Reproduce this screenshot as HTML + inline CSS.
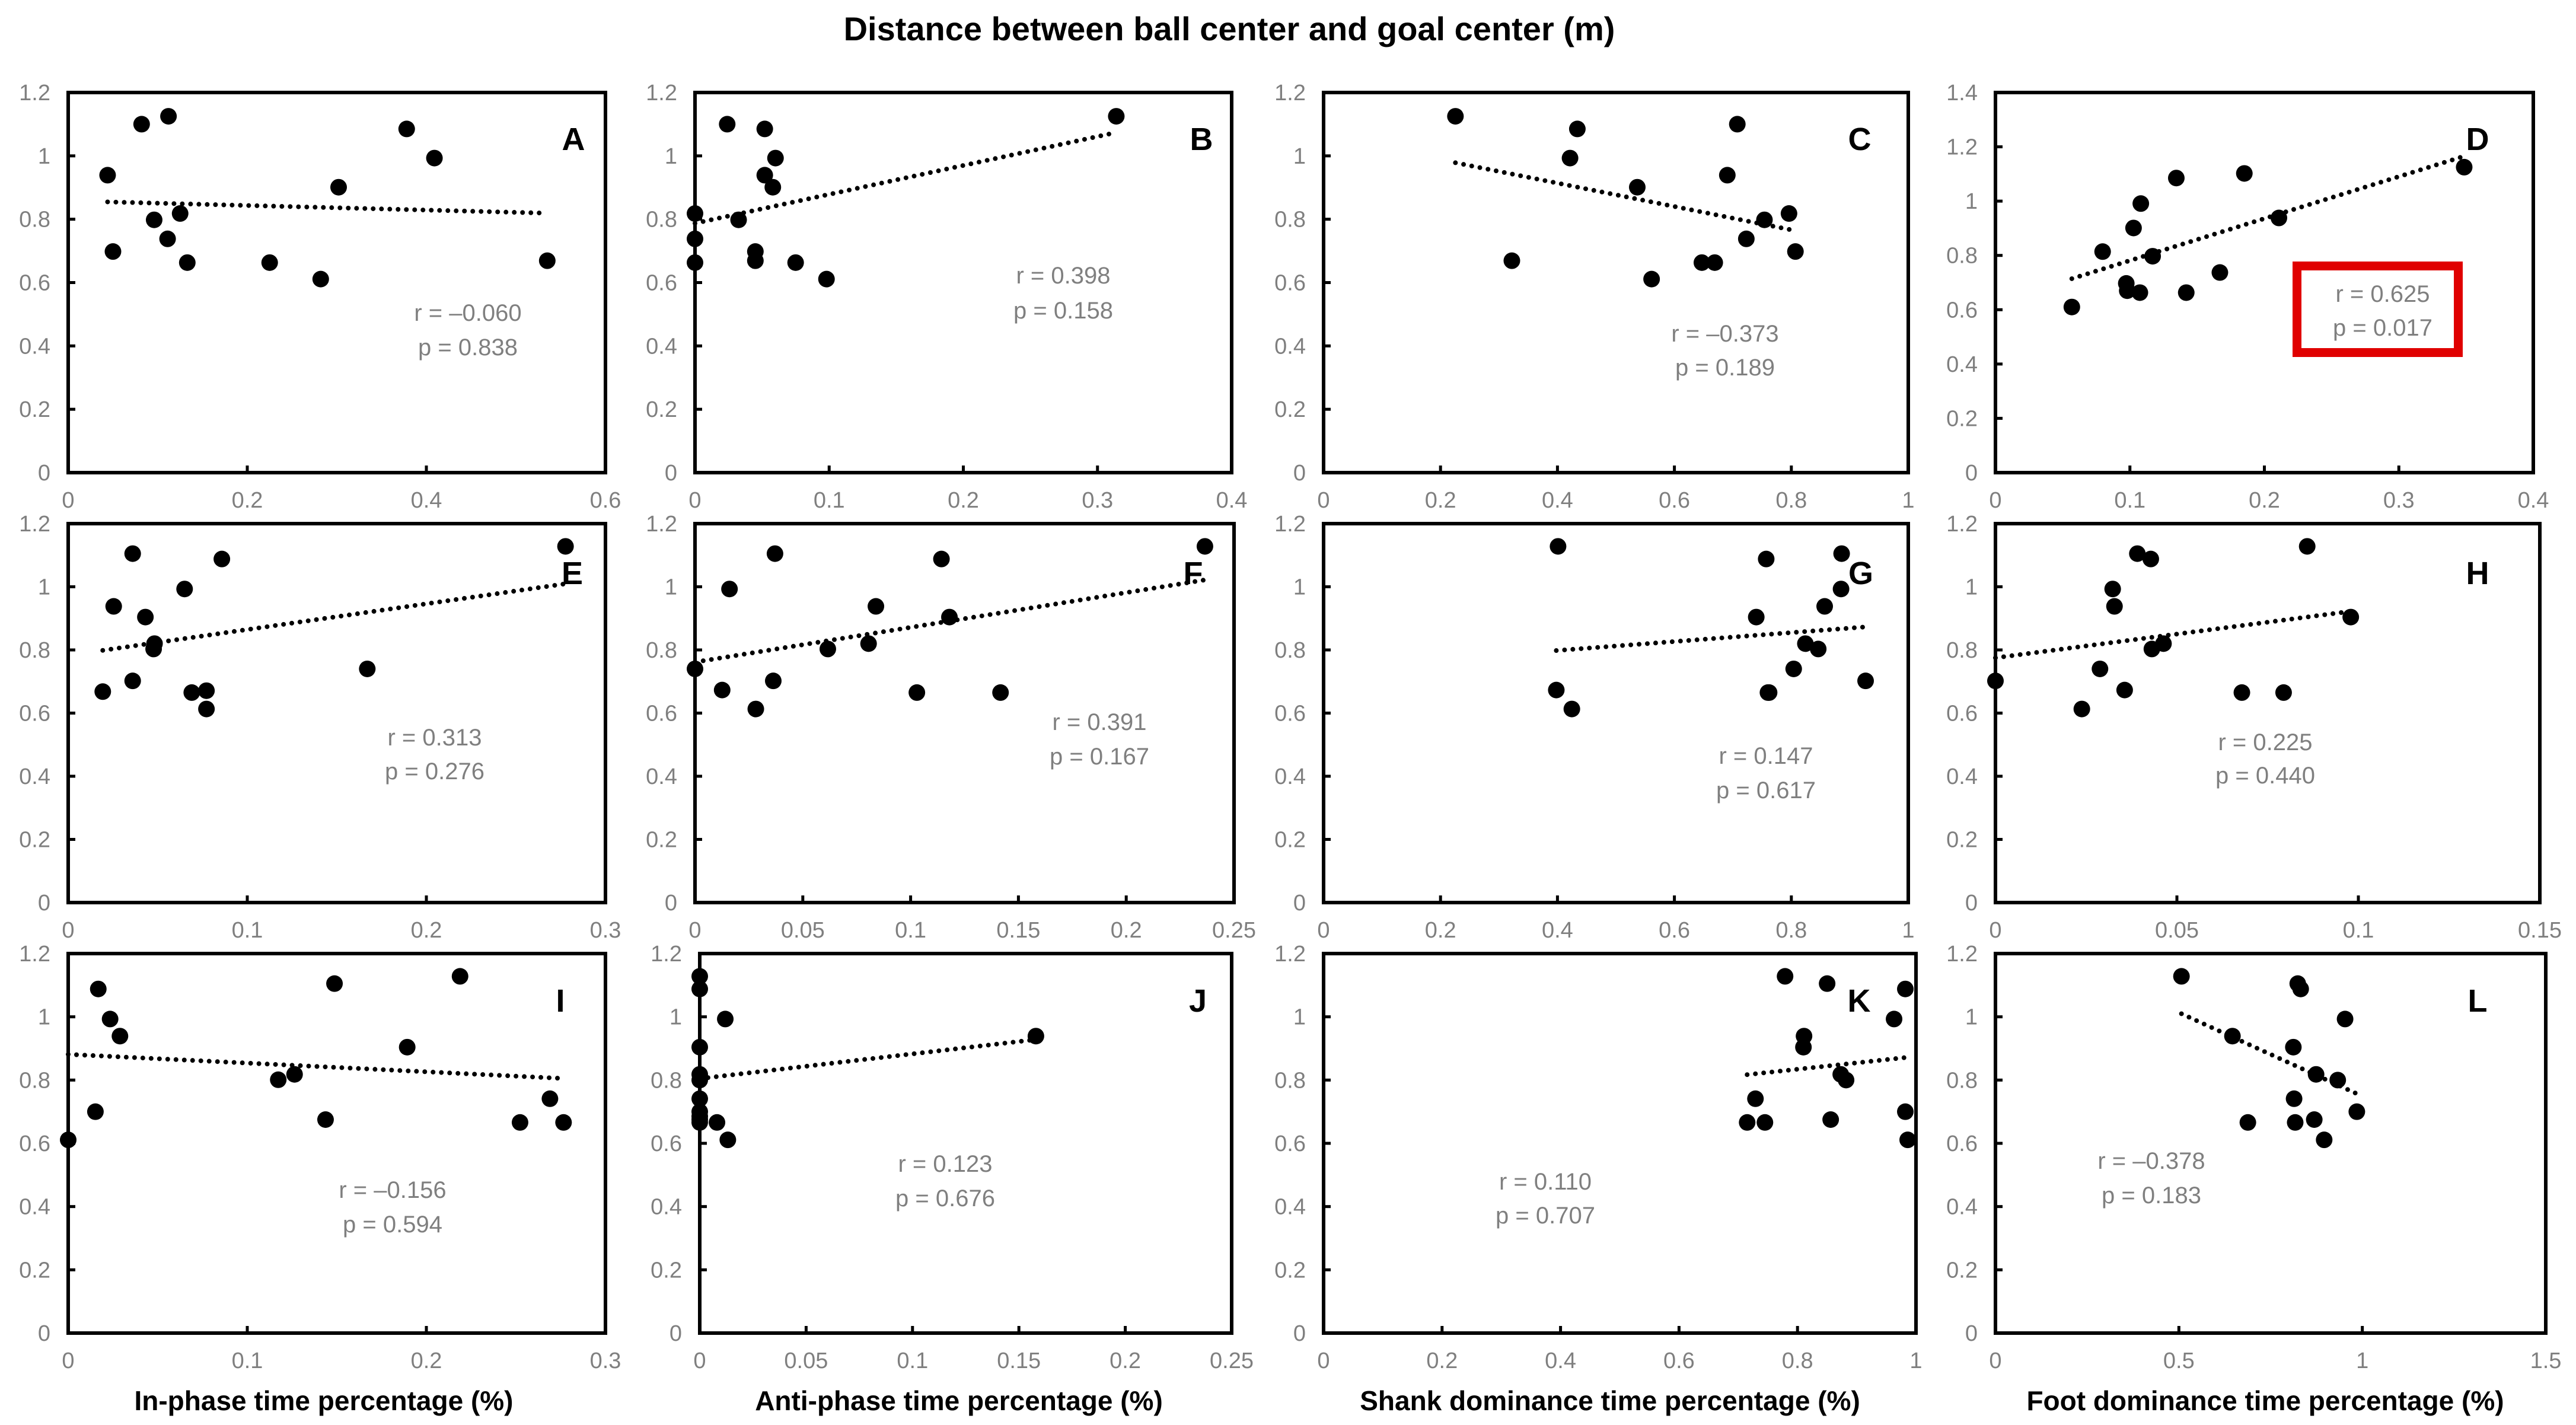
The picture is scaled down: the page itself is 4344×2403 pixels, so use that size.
<!DOCTYPE html>
<html><head><meta charset="utf-8">
<style>
html,body{margin:0;padding:0;background:#fff;}
svg{display:block;font-family:"Liberation Sans",Arial,sans-serif;}
</style></head>
<body>
<svg id="fig" xmlns="http://www.w3.org/2000/svg" width="4344" height="2403" viewBox="0 0 4344 2403">
<rect x="0" y="0" width="4344" height="2403" fill="#fff"/>
<text x="2073" y="68" text-anchor="middle" font-size="56" font-weight="bold">Distance between ball center and goal center (m)</text>
<text x="546" y="2378" text-anchor="middle" font-size="46" font-weight="bold">In-phase time percentage (%)</text>
<text x="1617" y="2378" text-anchor="middle" font-size="46" font-weight="bold">Anti-phase time percentage (%)</text>
<text x="2715" y="2378" text-anchor="middle" font-size="46" font-weight="bold">Shank dominance time percentage (%)</text>
<text x="3820" y="2378" text-anchor="middle" font-size="46" font-weight="bold">Foot dominance time percentage (%)</text>
</svg>
<script>
// ---- data per panel ----
const xA=[0.044,0.050,0.082,0.096,0.112,0.111,0.125,0.133,0.225,0.282,0.302,0.378,0.409,0.535];
const yA=[0.939,0.698,1.100,0.798,1.125,0.738,0.818,0.663,0.663,0.611,0.901,1.085,0.993,0.669];
const xB=[0,0,0,0.024,0.0325,0.045,0.045,0.052,0.052,0.058,0.060,0.075,0.098,0.314];
const yB=[0.818,0.738,0.663,1.100,0.798,0.698,0.669,1.085,0.939,0.901,0.993,0.663,0.611,1.125];
const xC=[0.2255,0.322,0.4215,0.434,0.5365,0.561,0.647,0.669,0.6905,0.7076,0.723,0.754,0.796,0.807];
const yC=[1.125,0.669,0.993,1.085,0.901,0.611,0.663,0.663,0.939,1.100,0.738,0.798,0.818,0.698];
const xD=[0.0568,0.0797,0.0973,0.098,0.1027,0.1074,0.1081,0.1169,0.1345,0.1419,0.1669,0.1851,0.2108,0.3486];
const yD=[0.610,0.814,0.697,0.670,0.901,0.663,0.991,0.797,1.085,0.663,0.737,1.102,0.938,1.125];
const xE=[0.0193,0.0254,0.036,0.036,0.0431,0.0482,0.0477,0.065,0.069,0.0772,0.0772,0.0858,0.167,0.2777];
const yE=[0.668,0.938,1.105,0.702,0.904,0.820,0.803,0.993,0.665,0.671,0.613,1.088,0.740,1.128];
const xF=[0,0.0126,0.016,0.0282,0.0363,0.0371,0.0616,0.0805,0.0839,0.1029,0.1143,0.118,0.1417,0.2365];
const yF=[0.740,0.673,0.993,0.613,0.702,1.105,0.803,0.820,0.938,0.665,1.088,0.904,0.665,1.128];
const xG=[0.401,0.398,0.4246,0.740,0.757,0.760,0.762,0.804,0.824,0.846,0.857,0.885,0.886,0.927];
const yG=[1.128,0.673,0.613,0.904,1.088,0.665,0.665,0.740,0.820,0.803,0.938,0.993,1.105,0.702];
const xH=[0,0.0238,0.0288,0.0323,0.0328,0.0356,0.0391,0.0428,0.0431,0.0463,0.0679,0.0794,0.0859,0.0979];
const yH=[0.702,0.613,0.740,0.993,0.938,0.673,1.105,1.088,0.803,0.820,0.665,0.665,1.128,0.904];
const xI=[0,0.0152,0.0168,0.0234,0.0289,0.1173,0.1264,0.1437,0.1487,0.1893,0.2188,0.2523,0.2690,0.2766];
const yI=[0.611,0.700,1.088,0.993,0.939,0.801,0.818,0.675,1.105,0.904,1.128,0.666,0.741,0.666];
const xJ=[0,0,0,0,0,0,0,0,0,0.0081,0.012,0.0132,0.158,0];
const yJ=[1.128,1.088,0.904,0.818,0.800,0.741,0.700,0.666,0.675,0.666,0.993,0.611,0.939,0.685];
const xK=[0.779,0.850,0.811,0.810,0.873,0.882,0.729,0.715,0.745,0.856,0.963,0.982,0.982,0.986];
const yK=[1.128,1.105,0.939,0.904,0.818,0.800,0.741,0.666,0.666,0.675,0.993,1.088,0.700,0.611];
const xL=[0.507,0.646,0.688,0.812,0.814,0.817,0.824,0.832,0.869,0.874,0.896,0.933,0.953,0.985];
const yL=[1.128,0.939,0.666,0.904,0.741,0.666,1.105,1.088,0.675,0.818,0.611,0.800,0.993,0.700];

const ticksX_06=["0","0.2","0.4","0.6"];
const ticksX_04=["0","0.1","0.2","0.3","0.4"];
const ticksX_1=["0","0.2","0.4","0.6","0.8","1"];
const ticksX_03=["0","0.1","0.2","0.3"];
const ticksX_025=["0","0.05","0.1","0.15","0.2","0.25"];
const ticksX_015=["0","0.05","0.1","0.15"];
const ticksX_15=["0","0.5","1","1.5"];
const ticksY_12=["0","0.2","0.4","0.6","0.8","1","1.2"];
const ticksY_14=["0","0.2","0.4","0.6","0.8","1","1.2","1.4"];

const rLabels=["r = \u20130.060","r = 0.398","r = \u20130.373","r = 0.625","r = 0.313","r = 0.391","r = 0.147","r = 0.225","r = \u20130.156","r = 0.123","r = 0.110","r = \u20130.378"];
const pLabels=["p = 0.838","p = 0.158","p = 0.189","p = 0.017","p = 0.276","p = 0.167","p = 0.617","p = 0.440","p = 0.594","p = 0.676","p = 0.707","p = 0.183"];

// ---- layout (not data) ----
const panels=[
 {id:"A",xs:xA,ys:yA,xt:ticksX_06,yt:ticksY_12,box:[115,156,1021,797],txt:[789,967]},
 {id:"B",xs:xB,ys:yB,xt:ticksX_04,yt:ticksY_12,box:[1172,156,2077,797],txt:[1793,2026]},
 {id:"C",xs:xC,ys:yC,xt:ticksX_1,yt:ticksY_12,box:[2232,156,3218,797],txt:[2909,3136]},
 {id:"D",xs:xD,ys:yD,xt:ticksX_04,yt:ticksY_14,box:[3365,156,4272,797],txt:[4018,4178]},
 {id:"E",xs:xE,ys:yE,xt:ticksX_03,yt:ticksY_12,box:[115,883,1021,1522],txt:[733,965]},
 {id:"F",xs:xF,ys:yF,xt:ticksX_025,yt:ticksY_12,box:[1172,883,2081,1522],txt:[1854,2012]},
 {id:"G",xs:xG,ys:yG,xt:ticksX_1,yt:ticksY_12,box:[2232,883,3218,1522],txt:[2978,3138]},
 {id:"H",xs:xH,ys:yH,xt:ticksX_015,yt:ticksY_12,box:[3365,883,4283,1522],txt:[3820,4178]},
 {id:"I",xs:xI,ys:yI,xt:ticksX_03,yt:ticksY_12,box:[115,1608,1021,2248],txt:[662,945]},
 {id:"J",xs:xJ,ys:yJ,xt:ticksX_025,yt:ticksY_12,box:[1180,1608,2077,2248],txt:[1594,2020]},
 {id:"K",xs:xK,ys:yK,xt:ticksX_1,yt:ticksY_12,box:[2232,1608,3231,2248],txt:[2606,3135]},
 {id:"L",xs:xL,ys:yL,xt:ticksX_15,yt:ticksY_12,box:[3365,1608,4293,2248],txt:[3628,4178]}
];
const statY=[[527,585],[464,523],[562,619],[495,552],[1243,1300],[1217,1275],[1274,1332],[1251,1307],[2006,2064],[1962,2020],[1992,2049],[1957,2015]];
const letterY=[233,233,233,233,965,965,965,965,1686,1686,1686,1686];

const NS="http://www.w3.org/2000/svg";
const svg=document.getElementById("fig");
function mk(tag,attrs,parent){const e=document.createElementNS(NS,tag);for(const k in attrs)e.setAttribute(k,attrs[k]);(parent||svg).appendChild(e);return e;}

panels.forEach((P,pi)=>{
 const [L,T,R,B]=P.box;
 const xmax=parseFloat(P.xt[P.xt.length-1]), ymax=parseFloat(P.yt[P.yt.length-1]);
 const sx=v=>L+(v/xmax)*(R-L);
 const sy=v=>B-(v/ymax)*(B-T);
 const g=mk("g",{});
 
 
 const frame=mk("rect",{x:L,y:T,width:R-L,height:B-T,fill:"none",stroke:"#000","stroke-width":6},g);
 
 
 P.yt.forEach((lab,i)=>{
  const v=parseFloat(lab),y=sy(v);
  if(i>0&&i<P.yt.length-1){const t=mk("line",{x1:L,x2:L+12,y1:y,y2:y,stroke:"#000","stroke-width":5},g);
   
   }
  const tx=mk("text",{x:L-30,y:y+13,"text-anchor":"end","font-size":38,fill:"#7f7f7f"},g);
  tx.textContent=lab;
  
  
 });
 P.xt.forEach((lab,i)=>{
  const v=parseFloat(lab),x=sx(v);
  if(i>0&&i<P.xt.length-1){const t=mk("line",{x1:x,x2:x,y1:B,y2:B-12,stroke:"#000","stroke-width":5},g);
   
   }
  const tx=mk("text",{x:x,y:B+59,"text-anchor":"middle","font-size":38,fill:"#7f7f7f"},g);
  tx.textContent=lab;
  
  
 });
 const n=P.xs.length;let mx=0,my=0;for(let i=0;i<n;i++){mx+=P.xs[i];my+=P.ys[i];}mx/=n;my/=n;
 let sxy=0,sxx=0;for(let i=0;i<n;i++){sxy+=(P.xs[i]-mx)*(P.ys[i]-my);sxx+=(P.xs[i]-mx)**2;}
 const b=sxy/sxx,a=my-b*mx;const x0=Math.min(...P.xs),x1=Math.max(...P.xs);
 const tl=mk("line",{x1:sx(x0),y1:sy(a+b*x0),x2:sx(x1),y2:sy(a+b*x1),stroke:"#000","stroke-width":8,"stroke-dasharray":"0 14","stroke-linecap":"round"},g);
 
 
 for(let i=0;i<n;i++){
  const c=mk("ellipse",{cx:sx(P.xs[i]),cy:sy(P.ys[i]),rx:14,ry:14,fill:"#000"},g);
  
  
 }
 const letter=mk("text",{x:P.txt[1],y:letterY[pi]+20,"text-anchor":"middle","font-size":54,"font-weight":"bold"},g);
 letter.textContent=P.id;
 
 
 if(P.id==="D"){
  const rb=mk("rect",{x:3873.5,y:448.5,width:272,height:146,fill:"none",stroke:"#e00000","stroke-width":15},g);
  
  
 }
 const rt=mk("text",{x:P.txt[0],y:statY[pi][0]+14,"text-anchor":"middle","font-size":40,fill:"#7f7f7f"},g);
 rt.textContent=rLabels[pi];
 
 
 const pt=mk("text",{x:P.txt[0],y:statY[pi][1]+14,"text-anchor":"middle","font-size":40,fill:"#7f7f7f"},g);
 pt.textContent=pLabels[pi];
 
 
});
</script>
</body></html>
